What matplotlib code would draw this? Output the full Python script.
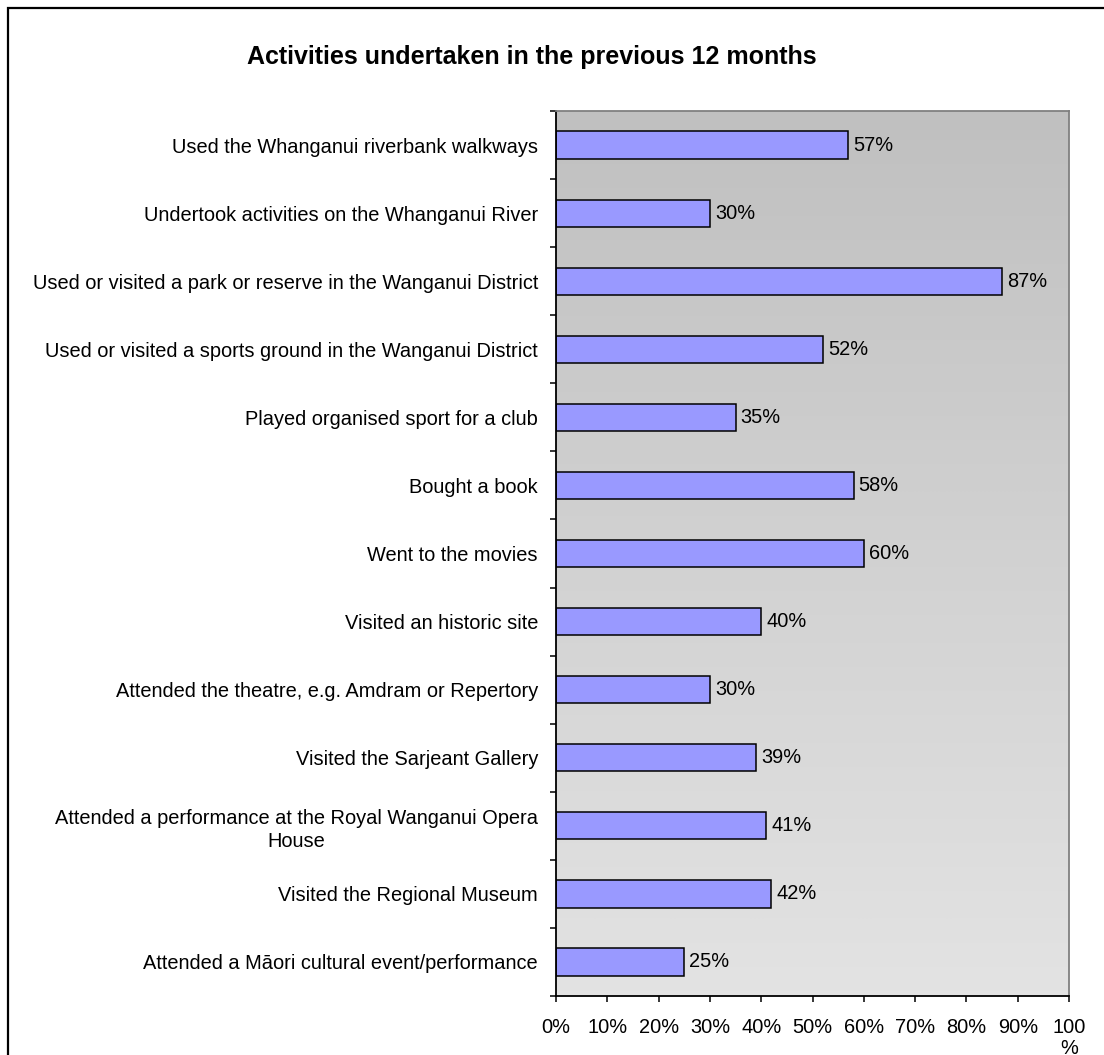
import matplotlib
matplotlib.use("Agg")
import matplotlib.pyplot as plt
from matplotlib.patches import Rectangle
import numpy as np

plt.rcParams['font.family'] = ['Liberation Sans', 'DejaVu Sans']

activities = [
    "Used the Whanganui riverbank walkways",
    "Undertook activities on the Whanganui River",
    "Used or visited a park or reserve in the Wanganui District",
    "Used or visited a sports ground in the Wanganui District",
    "Played organised sport for a club",
    "Bought a book",
    "Went to the movies",
    "Visited an historic site",
    "Attended the theatre, e.g. Amdram or Repertory",
    "Visited the Sarjeant Gallery",
    "Attended a performance at the Royal Wanganui Opera\nHouse",
    "Visited the Regional Museum",
    "Attended a M\u0101ori cultural event/performance",
]
percentages = [57, 30, 87, 52, 35, 58, 60, 40, 30, 39, 41, 42, 25]
x_ticks = [0, 10, 20, 30, 40, 50, 60, 70, 80, 90, 100]
x_tick_labels = ["0%", "10%", "20%", "30%", "40%", "50%", "60%", "70%", "80%", "90%", "100\n%"]
title = "Activities undertaken in the previous 12 months"

W, H = 1104, 1055
fig = plt.figure(figsize=(W / 100, H / 100), dpi=100)
fig.patch.set_facecolor("white")

# outer chart frame (runs off the right and bottom edges)
fig.add_artist(Rectangle((8 / W, -0.05), 1.2, 1 - 8 / H + 0.05,
                         transform=fig.transFigure, fill=False,
                         edgecolor="black", linewidth=1.6))

left, right, top, bottom = 556, 1069, 111, 996
ax = fig.add_axes([left / W, 1 - bottom / H, (right - left) / W, (bottom - top) / H])

n = len(activities)
y = np.arange(n)

# vertical grey gradient behind the bars
grad = np.linspace(0, 1, 256).reshape(-1, 1)
ax.imshow(grad, cmap=matplotlib.colors.LinearSegmentedColormap.from_list(
    "bg", ["#c0c0c0", "#e3e3e3"]), aspect="auto",
    extent=[0, 100, n - 0.5, -0.5], zorder=0, interpolation="bilinear")

ax.barh(y, percentages, height=0.4, color="#9999ff", edgecolor="black",
        linewidth=1.1, zorder=2)

for yi, v in zip(y, percentages):
    ax.text(v + 1.0, yi, f"{v}%", va="center", ha="left", fontsize=14.4, zorder=3)

ax.set_xlim(0, 100)
ax.set_ylim(n - 0.5, -0.5)

ax.set_xticks(x_ticks)
ax.set_xticklabels(x_tick_labels, fontsize=14.4, linespacing=1.15)
ax.tick_params(axis="x", direction="out", length=4.5, width=1.1, pad=11, colors="black")

ax.set_yticks(np.arange(-0.5, n, 1.0))
ax.set_yticklabels([])
ax.tick_params(axis="y", which="major", direction="out", length=4.5, width=1.1)
ax.set_yticks(y, minor=True)
ax.set_yticklabels(activities, minor=True, fontsize=14.4, multialignment="center",
                   linespacing=1.3)
ax.tick_params(axis="y", which="minor", length=0, pad=13)

for side in ("left", "bottom"):
    ax.spines[side].set_color("black")
    ax.spines[side].set_linewidth(1.3)
for side in ("top", "right"):
    ax.spines[side].set_color("#808080")
    ax.spines[side].set_linewidth(1.3)

fig.text(532 / W, 1 - 57 / H, title, ha="center", va="center",
         fontsize=18, fontweight="bold")

fig.savefig("out.png", dpi=100)
